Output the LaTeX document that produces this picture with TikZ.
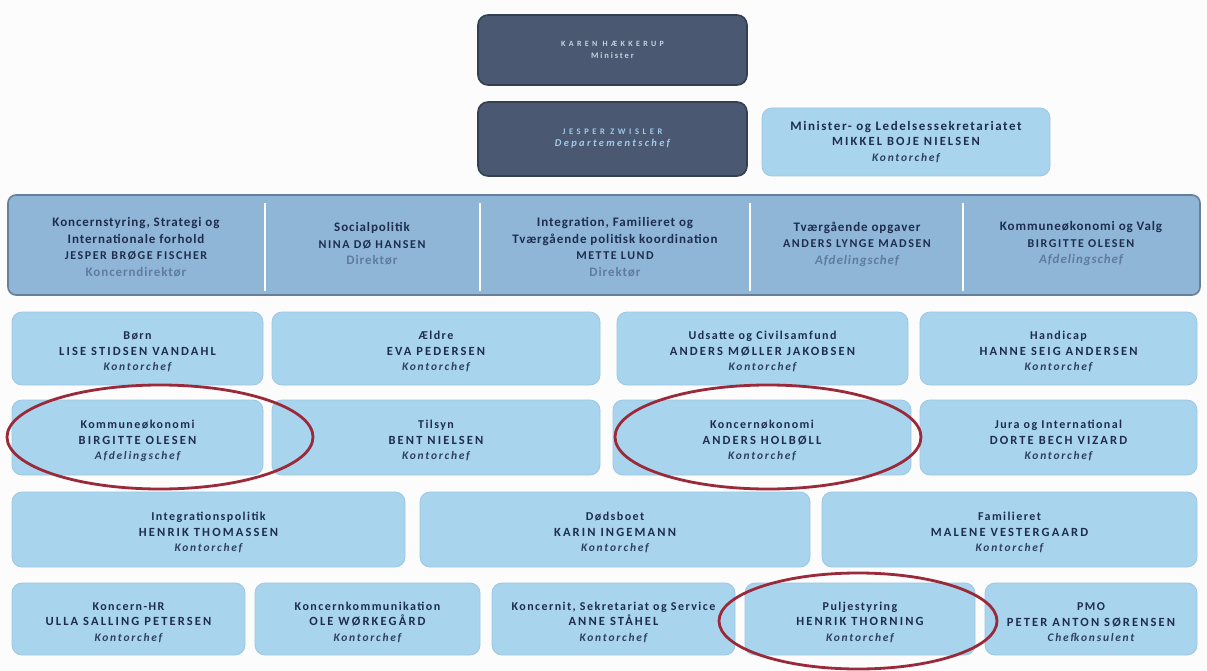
\documentclass[tikz,border=0pt]{standalone}
\usepackage{fontspec}
\setmainfont{Carlito}
\newfontfamily\fplain{Carlito}[LetterSpace=12]
\newfontfamily\fname{Carlito}[LetterSpace=17]
\newfontfamily\frole{Carlito}[LetterSpace=15]
\newfontfamily\ftop{Carlito}[LetterSpace=42]
\newfontfamily\ftopb{Carlito}[LetterSpace=22]
\newfontfamily\fband{Carlito}[LetterSpace=7]
\newfontfamily\fbandname{Carlito}[LetterSpace=13]
\definecolor{pagebg}{HTML}{FCFCFC}
\definecolor{lightbox}{HTML}{A9D4EE}
\definecolor{lightedge}{HTML}{9CC6E2}
\definecolor{navy}{HTML}{1E2D4E}
\definecolor{rolec}{HTML}{2E3F63}
\definecolor{bandfill}{HTML}{8FB6D7}
\definecolor{bandedge}{HTML}{66809C}
\definecolor{bandrole}{HTML}{5F7C9E}
\definecolor{darkbox}{HTML}{4B5872}
\definecolor{darkedge}{HTML}{353F52}
\definecolor{palegrey}{HTML}{C9D2DE}
\definecolor{paleblue}{HTML}{9FCBEA}
\definecolor{ringred}{HTML}{9A2A3A}
% unit box lines
\newcommand{\un}[1]{{\fplain\fontsize{12}{15.5}\selectfont\rule{0pt}{15pt}#1}}
\newcommand{\nm}[1]{{\fname\fontsize{12.5}{15.5}\selectfont #1}}
\newcommand{\rl}[1]{{\frole\itshape\fontsize{11.5}{15.5}\selectfont\color{rolec} #1}}
% band lines
\newcommand{\bu}[1]{{\fband\fontsize{13}{16.5}\selectfont #1}}
\newcommand{\bn}[1]{{\fbandname\fontsize{12}{16.5}\selectfont #1}}
\newcommand{\br}[1]{{\fband\fontsize{13}{16.5}\selectfont\color{bandrole} #1}}
\tikzset{
  unit/.style={rounded corners=10pt, fill=lightbox, draw=lightedge, line width=0.8pt,
    font=\bfseries\fontsize{12}{15.5}\selectfont, text=navy, align=center, inner sep=0pt},
  topbox/.style={rounded corners=10pt, fill=darkbox, draw=darkedge, line width=1.6pt,
    font=\bfseries, align=center, inner sep=0pt},
  band/.style={rounded corners=8pt, fill=bandfill, draw=bandedge, line width=1.6pt, inner sep=0pt},
  blabel/.style={font=\bfseries\fontsize{12}{16.5}\selectfont, text=navy, align=center, inner sep=0pt},
  divider/.style={draw=white, line width=1.6pt},
  ring/.style={draw=ringred, line width=2.8pt},
}
\begin{document}
\begin{tikzpicture}[x=1pt,y=-1pt]
\fill[pagebg] (0,0) rectangle (1207,671);
\useasboundingbox (0,0) rectangle (1207,671);

% top boxes
\node[topbox, minimum width=269pt, minimum height=70pt, text=palegrey] (minister) at (612.5,50)
  {{\ftop\fontsize{8}{18}\selectfont KAREN HÆKKERUP}\\{\ftopb\fontsize{8.5}{18}\selectfont Minister}};
\node[topbox, minimum width=269pt, minimum height=74pt, text=paleblue] (dchef) at (612.5,139)
  {{\ftop\fontsize{8.5}{16}\selectfont JESPER ZWISLER}\\{\ftopb\itshape\fontsize{10.5}{16}\selectfont Departementschef}};
\node[unit, minimum width=288pt, minimum height=68pt, font=\bfseries\fontsize{12}{15.5}\selectfont] (sekr) at (906,142)
  {{\fplain\fontsize{13}{15.5}\selectfont Minister- og Ledelsessekretariatet}\\{\fname\fontsize{12.5}{15.5}\selectfont MIKKEL BOJE NIELSEN}\\{\frole\itshape\fontsize{11.5}{15.5}\selectfont\color{rolec}Kontorchef}};

% director band
\node[band, minimum width=1192pt, minimum height=100pt] (band) at (604,245) {};
\draw[divider] (265,203) -- (265,291);
\draw[divider] (480,203) -- (480,291);
\draw[divider] (750,203) -- (750,291);
\draw[divider] (963,203) -- (963,291);
\node[blabel] (d1) at (136,247) {\bu{Koncernstyring, Strategi og}\\\bu{Internationale forhold}\\\bn{JESPER BRØGE FISCHER}\\\br{Koncerndirektør}};
\node[blabel] (d2) at (372,244) {\bu{Socialpolitik}\\\bn{NINA DØ HANSEN}\\\br{Direktør}};
\node[blabel] (d3) at (615,247) {\bu{Integration, Familieret og}\\\bu{Tværgående politisk koordination}\\\bn{METTE LUND}\\\br{Direktør}};
\node[blabel] (d4) at (857,244) {\bu{Tværgående opgaver}\\\bn{ANDERS LYNGE MADSEN}\\\br{\itshape Afdelingschef}};
\node[blabel] (d5) at (1081,244) {\bu{Kommuneøkonomi og Valg}\\\bn{BIRGITTE OLESEN}\\\br{\itshape Afdelingschef}};

% row 1
\node[unit, minimum width=251pt, minimum height=73pt] (r1a) at (137.5,348.5) {\un{Børn}\\\nm{LISE STIDSEN VANDAHL}\\\rl{Kontorchef}};
\node[unit, minimum width=328pt, minimum height=73pt] (r1b) at (436,348.5) {\un{Ældre}\\\nm{EVA PEDERSEN}\\\rl{Kontorchef}};
\node[unit, minimum width=291pt, minimum height=73pt] (r1c) at (762.5,348.5) {\un{Udsatte og Civilsamfund}\\\nm{ANDERS MØLLER JAKOBSEN}\\\rl{Kontorchef}};
\node[unit, minimum width=277pt, minimum height=73pt] (r1d) at (1058.5,348.5) {\un{Handicap}\\\nm{HANNE SEIG ANDERSEN}\\\rl{Kontorchef}};

% row 2
\node[unit, minimum width=251pt, minimum height=75pt] (r2a) at (137.5,437.5) {\un{Kommuneøkonomi}\\\nm{BIRGITTE OLESEN}\\\rl{Afdelingschef}};
\node[unit, minimum width=328pt, minimum height=75pt] (r2b) at (436,437.5) {\un{Tilsyn}\\\nm{BENT NIELSEN}\\\rl{Kontorchef}};
\node[unit, minimum width=298pt, minimum height=75pt] (r2c) at (762,437.5) {\un{Koncernøkonomi}\\\nm{ANDERS HOLBØLL}\\\rl{Kontorchef}};
\node[unit, minimum width=277pt, minimum height=75pt] (r2d) at (1058.5,437.5) {\un{Jura og International}\\\nm{DORTE BECH VIZARD}\\\rl{Kontorchef}};

% row 3
\node[unit, minimum width=393pt, minimum height=75pt] (r3a) at (208.5,529.5) {\un{Integrationspolitik}\\\nm{HENRIK THOMASSEN}\\\rl{Kontorchef}};
\node[unit, minimum width=390pt, minimum height=75pt] (r3b) at (615,529.5) {\un{Dødsboet}\\\nm{KARIN INGEMANN}\\\rl{Kontorchef}};
\node[unit, minimum width=375pt, minimum height=75pt] (r3c) at (1009.5,529.5) {\un{Familieret}\\\nm{MALENE VESTERGAARD}\\\rl{Kontorchef}};

% row 4
\node[unit, minimum width=233pt, minimum height=72pt] (r4a) at (128.5,619) {\un{Koncern-HR}\\\nm{ULLA SALLING PETERSEN}\\\rl{Kontorchef}};
\node[unit, minimum width=225pt, minimum height=72pt] (r4b) at (367.5,619) {\un{Koncernkommunikation}\\\nm{OLE WØRKEGÅRD}\\\rl{Kontorchef}};
\node[unit, minimum width=243pt, minimum height=72pt] (r4c) at (613.5,619) {\un{Koncernit, Sekretariat og Service}\\\nm{ANNE STÅHEL}\\\rl{Kontorchef}};
\node[unit, minimum width=230pt, minimum height=72pt] (r4d) at (860,619) {\un{Puljestyring}\\\nm{HENRIK THORNING}\\\rl{Kontorchef}};
\node[unit, minimum width=212pt, minimum height=72pt] (r4e) at (1091,619) {\un{PMO}\\\nm{PETER ANTON SØRENSEN}\\\rl{Chefkonsulent}};

% red rings
\draw[ring] (160,437) ellipse [x radius=153pt, y radius=52pt];
\draw[ring] (768,437) ellipse [x radius=153pt, y radius=52pt];
\draw[ring] (858,621) ellipse [x radius=139pt, y radius=48pt];
\end{tikzpicture}
\end{document}
